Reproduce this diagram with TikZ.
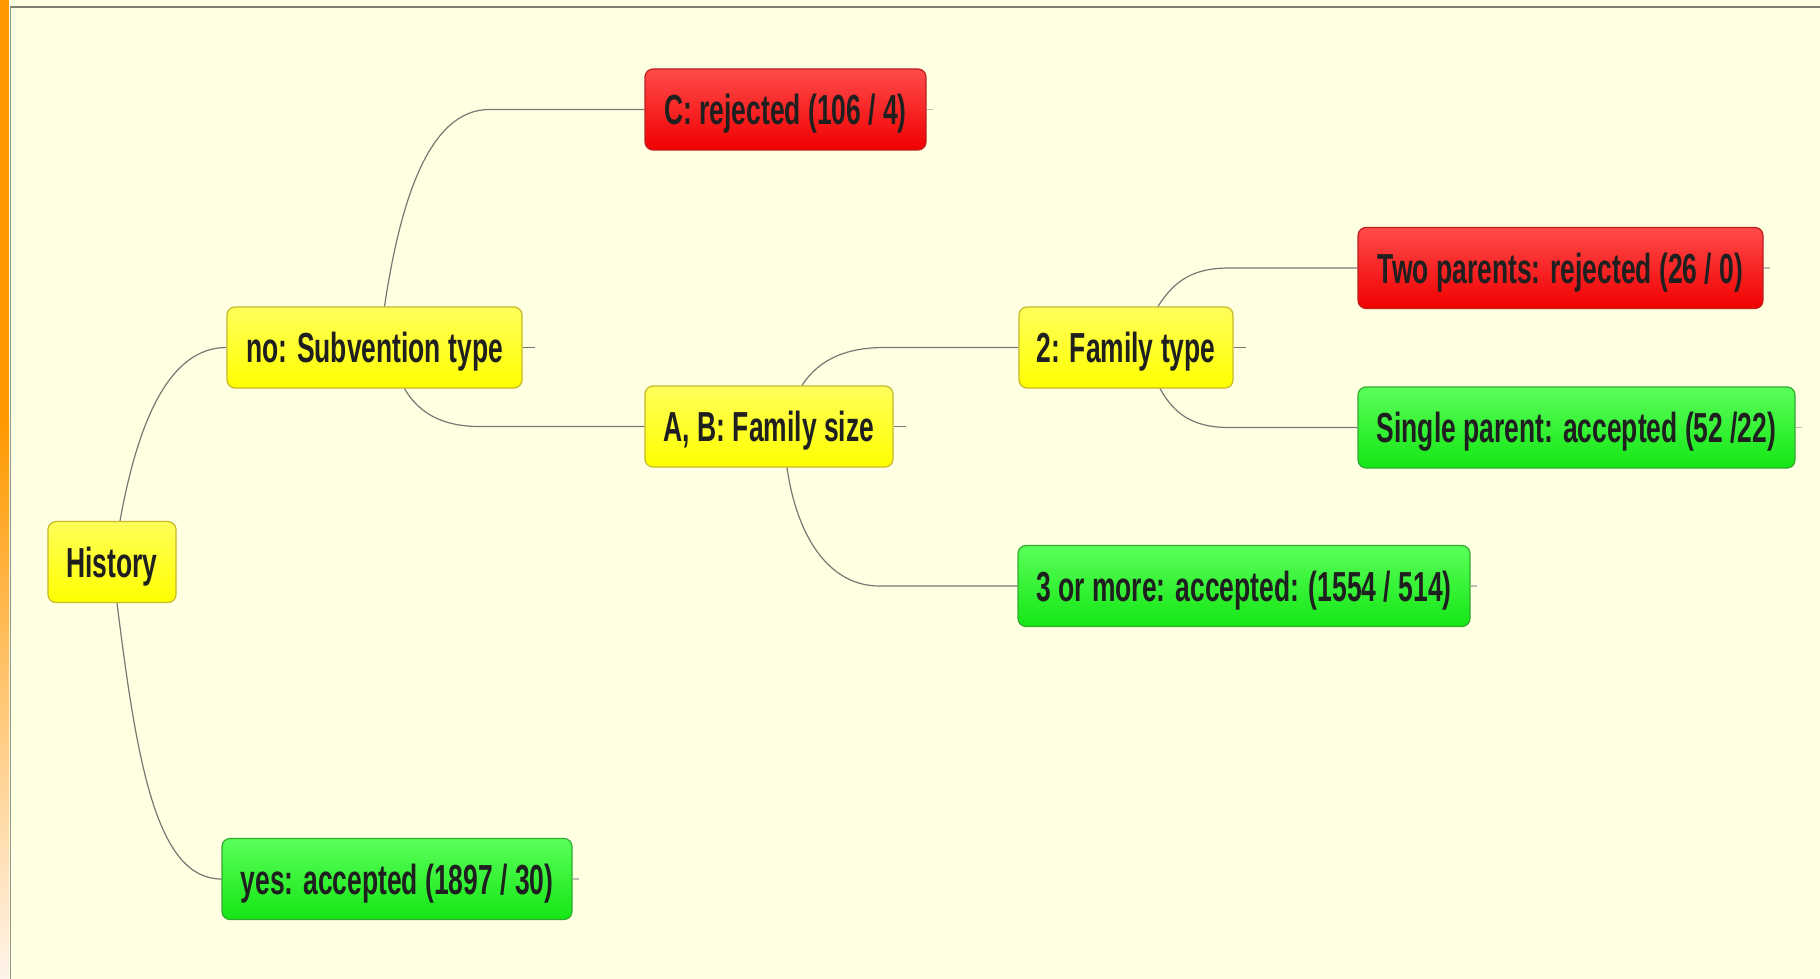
\documentclass[tikz,border=0pt]{standalone}
\usepackage{fontspec}
\setmainfont{Liberation Sans}
\usetikzlibrary{calc}
\definecolor{bg}{RGB}{255,255,225}
\definecolor{orangebar}{RGB}{255,153,0}
\definecolor{orangelight}{RGB}{255,244,234}
\definecolor{frameline}{RGB}{150,150,135}
\definecolor{edgegray}{RGB}{120,120,115}
\definecolor{stubgray}{RGB}{190,190,180}
\definecolor{ytop}{RGB}{255,255,90}
\definecolor{ybot}{RGB}{255,255,0}
\definecolor{ydraw}{RGB}{200,185,40}
\definecolor{rtop}{RGB}{255,75,75}
\definecolor{rbot}{RGB}{240,0,0}
\definecolor{rdraw}{RGB}{190,30,30}
\definecolor{gtop}{RGB}{90,255,90}
\definecolor{gbot}{RGB}{20,230,20}
\definecolor{gdraw}{RGB}{50,170,50}
\newcommand{\lbl}[1]{\scalebox{0.63}[1]{#1}}
\begin{document}
\begin{tikzpicture}[x=1pt,y=-1pt,
  box/.style={rounded corners=8pt, line width=1.2pt,
    font=\fontsize{42}{48}\selectfont\bfseries, text=black!88,
    text height=30pt, text depth=0pt, inner sep=0pt, minimum height=81pt},
  ybox/.style={box, draw=ydraw, top color=ytop, bottom color=ybot},
  rbox/.style={box, draw=rdraw, top color=rtop, bottom color=rbot},
  gbox/.style={box, draw=gdraw, top color=gtop, bottom color=gbot},
  conn/.style={draw=edgegray, line width=1.2pt},
  stub/.style={draw=stubgray, line width=1.2pt},
]
\useasboundingbox (0,0) rectangle (1820,979);
% background and frame
\fill[bg] (0,0) rectangle (1820,979);
\fill[orangebar] (0,0) rectangle (9,420);
\shade[top color=orangebar, bottom color=orangelight] (0,420) rectangle (9,979);
\draw[frameline, line width=1.4pt] (10.5,7.5) -- (10.5,979);
\draw[frameline!85!black, line width=2pt] (10,7.5) -- (1820,7.5);

% nodes
\node[ybox, minimum width=128pt] (hist) at (112,562) {\lbl{History}};
\node[ybox, minimum width=295pt] (nosub) at (374.5,347.5) {\lbl{no: Subvention type}};
\node[rbox, minimum width=281pt] (crej) at (785.5,109.5) {\lbl{C: rejected (106 / 4)}};
\node[ybox, minimum width=248pt] (ab) at (769,426.5) {\lbl{A, B: Family size}};
\node[ybox, minimum width=214pt] (fam) at (1126,347.5) {\lbl{2: Family type}};
\node[rbox, minimum width=405pt] (two) at (1560.5,268) {\lbl{Two parents: rejected (26 / 0)}};
\node[gbox, minimum width=437pt] (single) at (1576.5,427.5) {\lbl{Single parent: accepted (52 /22)}};
\node[gbox, minimum width=452pt] (three) at (1244,586) {\lbl{3 or more: accepted: (1554 / 514)}};
\node[gbox, minimum width=350pt] (yes) at (397,879) {\lbl{yes: accepted (1897 / 30)}};

% connectors
\draw[conn] ($(hist.north)+(8,0)$) .. controls +(18,-100) and +(-57,0) .. (nosub.west);
\draw[conn] ($(hist.south)+(5,0)$) .. controls +(20,160) and +(-65,0) .. (yes.west);
\draw[conn] ($(nosub.north)+(10,0)$) .. controls +(16,-107) and +(-60,0) .. ($(crej.west)+(-155,0)$) -- (crej.west);
\draw[conn] ($(nosub.south)+(30,0)$) .. controls +(15,26) and +(-35,0) .. ($(ab.west)+(-165,0)$) -- (ab.west);
\draw[conn] ($(ab.north)+(33,0)$) .. controls +(18,-28) and +(-35,0) .. ($(fam.west)+(-134,0)$) -- (fam.west);
\draw[conn] ($(ab.south)+(18,0)$) .. controls +(10,70) and +(-50,0) .. ($(three.west)+(-138,0)$) -- (three.west);
\draw[conn] ($(fam.north)+(32,0)$) .. controls +(17,-27) and +(-35,0) .. ($(two.west)+(-128,0)$) -- (two.west);
\draw[conn] ($(fam.south)+(34,0)$) .. controls +(15,27) and +(-35,0) .. ($(single.west)+(-128,0)$) -- (single.west);

% stubs
\draw[conn] (nosub.east) -- +(12,0);
\draw[conn] (ab.east) -- +(12,0);
\draw[conn] (fam.east) -- +(12,0);
\draw[stub] (crej.east) -- +(6,0);
\draw[stub] (two.east) -- +(6,0);
\draw[stub] (single.east) -- +(6,0);
\draw[stub] (three.east) -- +(6,0);
\draw[stub] (yes.east) -- +(6,0);
\end{tikzpicture}
\end{document}
